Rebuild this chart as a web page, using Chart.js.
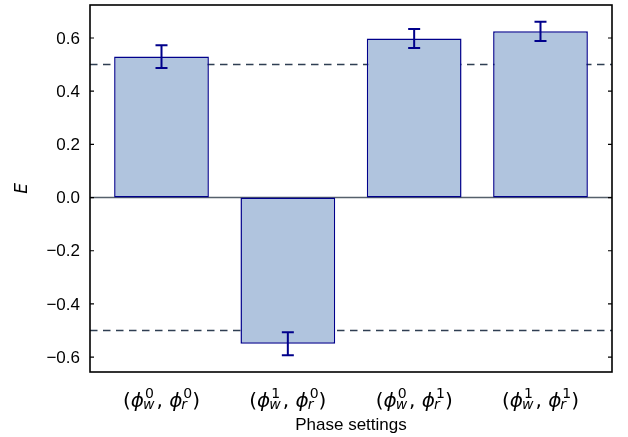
<!DOCTYPE html>
<html>
<head>
<meta charset="utf-8">
<script src="https://cdn.jsdelivr.net/npm/chart.js@4"></script>
<style>
  body { margin: 0; background: #fff; }
  #wrap { width: 628px; height: 437px; }
</style>
</head>
<body>
<div id="wrap"><canvas id="chart"></canvas></div>
<script>
// data
const writePhase = ['0', '1', '0', '1'];
const readPhase = ['0', '0', '1', '1'];
const values = [0.530, -0.550, 0.598, 0.625];
const errors = [0.043, 0.043, 0.036, 0.036];
const yTicks = [-0.6, -0.4, -0.2, 0.0, 0.2, 0.4, 0.6];
const refLines = [0.5, -0.5];

const MATH = '"DejaVu Sans"';
const SANS = '"Liberation Sans", Arial, sans-serif';

function drawPhaseLabel(ctx, cx, base, w, r) {
    const S = 20, s = 14;
    const parts = [
        { t: '(', f: `${S}px ${MATH}` },
        { t: '\u03D5', f: `italic ${S}px ${MATH}` },
        { sup: w, sub: 'w' },
        { t: ', ', f: `${S}px ${MATH}` },
        { t: '\u03D5', f: `italic ${S}px ${MATH}` },
        { sup: r, sub: 'r' },
        { t: ')', f: `${S}px ${MATH}` }
    ];
    const supFont = `${s}px ${MATH}`, subFont = `italic ${s}px ${MATH}`;
    const widths = parts.map(p => {
        if (p.t !== undefined) { ctx.font = p.f; return ctx.measureText(p.t).width; }
        ctx.font = supFont; const a = ctx.measureText(p.sup).width;
        ctx.font = subFont; const b = ctx.measureText(p.sub).width;
        return Math.max(a, b) + 1;
    });
    let x = cx - widths.reduce((m, v) => m + v, 0) / 2;
    ctx.textAlign = 'left';
    ctx.textBaseline = 'alphabetic';
    parts.forEach((p, i) => {
        if (p.t !== undefined) {
            ctx.font = p.f; ctx.fillText(p.t, x, base);
        } else {
            ctx.font = supFont; ctx.fillText(p.sup, x + 1, base - 9);
            ctx.font = subFont; ctx.fillText(p.sub, x - 1, base + 2);
        }
        x += widths[i];
    });
}

const decor = {
    id: 'decor',
    beforeDatasetsDraw(chart) {
        const { ctx, chartArea: a, scales: { y } } = chart;
        ctx.save();
        ctx.strokeStyle = '#56606b';
        ctx.lineWidth = 1.5;
        const y0 = y.getPixelForValue(0);
        ctx.beginPath(); ctx.moveTo(a.left, y0); ctx.lineTo(a.right, y0); ctx.stroke();
        ctx.strokeStyle = '#2f3e52';
        ctx.setLineDash([7.5, 5.5]);
        refLines.forEach(v => {
            const py = y.getPixelForValue(v);
            ctx.beginPath(); ctx.moveTo(a.left, py); ctx.lineTo(a.right, py); ctx.stroke();
        });
        ctx.restore();
    },
    afterDatasetsDraw(chart) {
        const { ctx, chartArea: a, scales: { x, y } } = chart;
        ctx.save();
        // error bars
        ctx.strokeStyle = '#00008b';
        ctx.lineWidth = 2;
        values.forEach((v, i) => {
            const px = x.getPixelForValue(i);
            const hi = y.getPixelForValue(v + errors[i]);
            const lo = y.getPixelForValue(v - errors[i]);
            ctx.beginPath();
            ctx.moveTo(px, hi); ctx.lineTo(px, lo);
            ctx.moveTo(px - 6, hi); ctx.lineTo(px + 6, hi);
            ctx.moveTo(px - 6, lo); ctx.lineTo(px + 6, lo);
            ctx.stroke();
        });
        // frame
        ctx.strokeStyle = '#000';
        ctx.lineWidth = 1.6;
        ctx.strokeRect(a.left, a.top, a.right - a.left, a.bottom - a.top);
        // inward ticks on both sides, with labels on the left
        ctx.lineWidth = 1.2;
        ctx.fillStyle = '#000';
        ctx.font = `17px ${SANS}`;
        ctx.textAlign = 'right';
        ctx.textBaseline = 'middle';
        yTicks.forEach(v => {
            const py = y.getPixelForValue(v);
            ctx.beginPath();
            ctx.moveTo(a.left, py); ctx.lineTo(a.left + 4, py);
            ctx.moveTo(a.right, py); ctx.lineTo(a.right - 4, py);
            ctx.stroke();
            const txt = (v < -1e-9 ? '\u2212' : '') + Math.abs(v).toFixed(1);
            ctx.fillText(txt, a.left - 10, py + 1);
        });
        // category labels
        writePhase.forEach((w, i) => {
            drawPhaseLabel(ctx, x.getPixelForValue(i), 407, w, readPhase[i]);
        });
        ctx.restore();
    }
};

new Chart(document.getElementById('chart'), {
    type: 'bar',
    data: {
        datasets: [{
            data: values.map((v, i) => ({ x: i, y: v })),
            backgroundColor: '#b0c4de',
            borderColor: '#00008b',
            borderWidth: 1.5,
            borderSkipped: false,
            categoryPercentage: 0.75,
            barPercentage: 1
        }]
    },
    options: {
        responsive: true,
        maintainAspectRatio: false,
        animation: false,
        layout: { padding: { top: 5, right: 16, left: 0, bottom: 0 } },
        scales: {
            x: {
                type: 'linear',
                offset: false,
                min: -0.566,
                max: 3.566,
                grid: { display: false, offset: false },
                border: { display: false },
                ticks: { display: false },
                afterBuildTicks: s => { s.ticks = values.map((v, i) => ({ value: i })); },
                afterFit: s => { s.height = 65; },
                title: {
                    display: true,
                    text: 'Phase settings',
                    color: '#000',
                    font: { family: SANS, size: 17 },
                    padding: { top: 0, bottom: 1 }
                }
            },
            y: {
                min: -0.656,
                max: 0.724,
                grid: { display: false, drawTicks: false },
                border: { display: false },
                ticks: { display: false },
                afterFit: s => { s.width = 90; },
                title: {
                    display: true,
                    text: 'E',
                    color: '#000',
                    font: { family: MATH, size: 17, style: 'italic' },
                    padding: { top: 12, bottom: 0 }
                }
            }
        },
        plugins: {
            legend: { display: false },
            tooltip: { enabled: false }
        }
    },
    plugins: [decor]
});
</script>
</body>
</html>
